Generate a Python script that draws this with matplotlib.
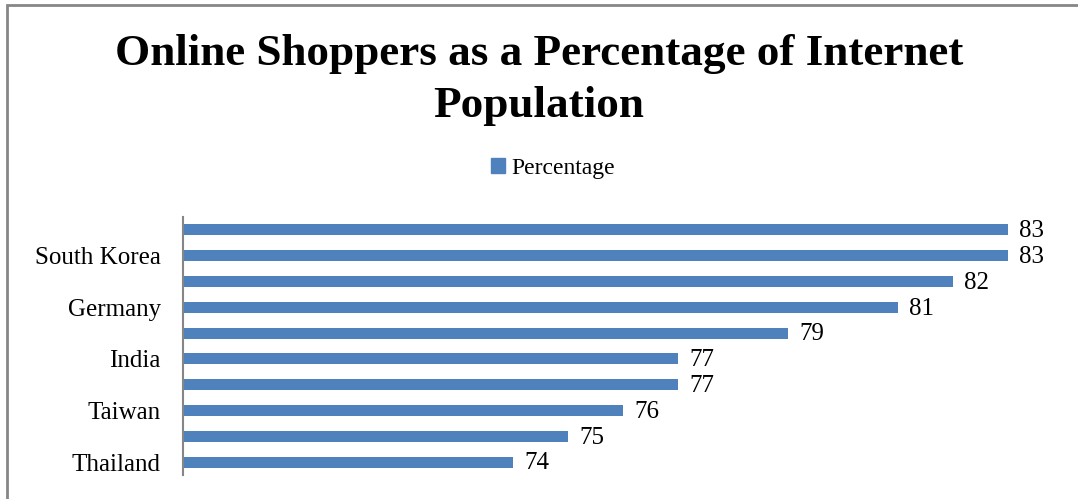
import matplotlib.pyplot as plt
from matplotlib.patches import Patch, Rectangle

# top to bottom; every other category label is skipped on the axis
countries = ['', 'South Korea', '', 'Germany', '', 'India', '', 'Taiwan', '', 'Thailand']
percentage = [83, 83, 82, 81, 79, 77, 77, 76, 75, 74]

bar_color = '#4F81BD'
grey = '#868686'

plt.rcParams['font.family'] = ['Liberation Serif', 'DejaVu Serif']

fig = plt.figure(figsize=(10.78, 4.99), dpi=100)
ax = fig.add_axes([0.1698, 0.0481, 0.8162, 0.517])

pos = list(range(len(percentage)))
ax.barh(pos, percentage, height=0.42, color=bar_color, left=0)
ax.set_xlim(68, 84)
ax.set_ylim(len(pos) - 0.5, -0.5)

for y, v in zip(pos, percentage):
    ax.annotate(str(v), (v, y), xytext=(8, -1), textcoords='offset points',
                va='center', ha='left', fontsize=18)

ax.set_yticks(pos)
ax.set_yticklabels(countries, fontsize=18)
ax.tick_params(axis='y', length=0, pad=16)
ax.set_xticks([])
for side in ['top', 'right', 'bottom']:
    ax.spines[side].set_visible(False)
ax.spines['left'].set_color(grey)
ax.spines['left'].set_linewidth(1.5)

fig.text(0.5, 0.84, 'Online Shoppers as a Percentage of Internet\nPopulation',
         ha='center', va='center', fontsize=32.5, fontweight='bold', linespacing=1.38)

fig.legend(handles=[Patch(color=bar_color, label='Percentage')],
           loc='center', bbox_to_anchor=(0.513, 0.663), frameon=False,
           fontsize=17, handlelength=0.6, handleheight=0.6, handletextpad=0.3)

# chart area frame
fig.patches.append(Rectangle((7 / 1078, -0.1), 1.2, 1.1 - 5 / 499,
                             transform=fig.transFigure, fill=False,
                             edgecolor=grey, linewidth=2))

fig.savefig('out.png', dpi=100)
